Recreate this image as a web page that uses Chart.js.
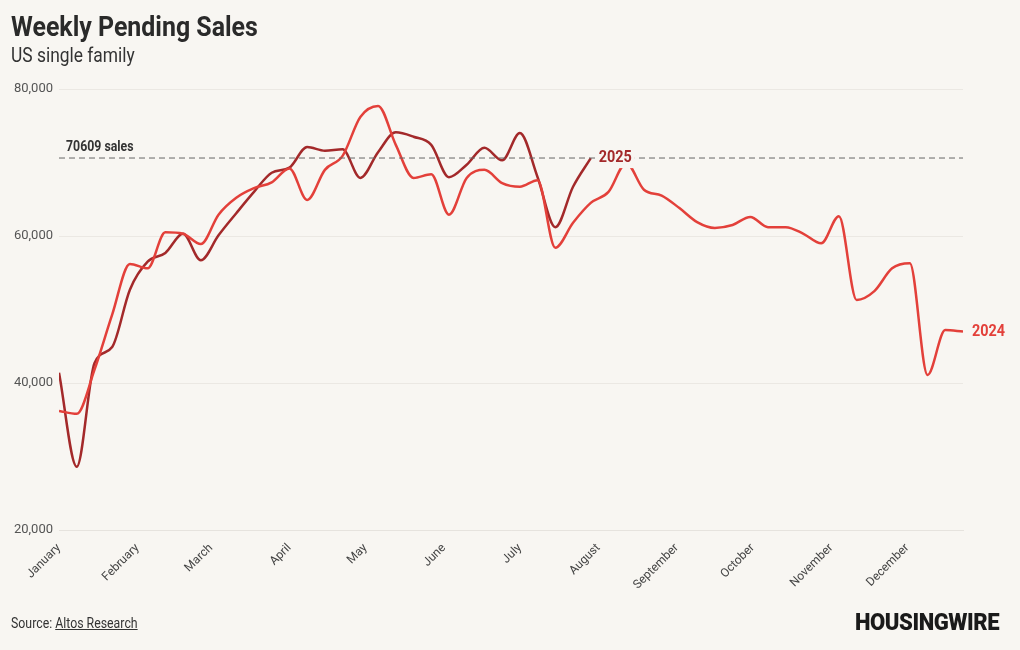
<!DOCTYPE html>
<html><head><meta charset="utf-8">
<script src="https://cdn.jsdelivr.net/npm/chart.js@4"></script>
<style>
body{margin:0;background:#f8f6f2;font-family:"Liberation Sans Narrow","Roboto",sans-serif;}
#wrap{position:relative;width:1020px;height:650px;}
canvas{position:absolute;left:0;top:0;}
.t{position:absolute;left:11px;top:10px;font-size:28px;font-weight:bold;color:#2a2a2a;transform:scaleX(0.89);transform-origin:left;}
.s{position:absolute;left:11px;top:43px;font-size:20px;color:#333;transform:scaleX(0.87);transform-origin:left;}
.src{position:absolute;left:11px;top:615px;font-size:14px;color:#333;transform:scaleX(0.88);transform-origin:left;}
.src u{color:#333}
.logo{position:absolute;left:855px;top:608px;font-size:24px;font-weight:900;color:#1a1a1a;letter-spacing:-0.5px;transform:scaleX(0.92);transform-origin:left;}
</style></head><body>
<div id="wrap">
<canvas id="c" width="1020" height="650"></canvas>
<div class="t">Weekly Pending Sales</div>
<div class="s">US single family</div>
<div class="src">Source: <u>Altos Research</u></div>
<div class="logo">HOUSINGWIRE</div>
</div>
<script>
const monthLabels=["January","February","March","April","May","June","July","August","September","October","November","December"];
const monthStartDay=[0,31,60,91,121,152,182,213,244,274,305,335];
const yTicks=[20000,40000,60000,80000];
const refValue=70609;
const sales2024=[36.2,35.8,41.8,49.3,56.2,55.6,60.5,60.3,58.9,62.9,65.2,66.5,67.3,69.2,64.9,69.0,70.9,76.2,77.7,72.4,67.9,68.4,62.9,67.9,69.0,67.2,66.7,67.6,58.4,61.8,64.5,66.0,69.9,66.3,65.5,63.8,61.9,61.1,61.5,62.6,61.2,61.2,60.3,59.0,62.7,51.3,52.5,55.6,56.3,41.1,47.2,47.0];
const sales2025=[41.4,28.6,42.7,44.9,52.7,56.5,57.7,60.3,56.7,60.1,63.1,66.0,68.6,69.3,72.1,71.6,71.8,67.9,71.4,74.1,73.5,72.4,68.0,69.7,72.0,70.3,74.0,68.0,61.2,66.7,70.6];
const pts=a=>a.map((v,i)=>({x:i,y:v*1000}));
const C24='#e3403a',C25='#a3292a';
const FF='"Liberation Sans Narrow", Roboto';
const deco={id:'deco',afterDatasetsDraw(ch){
 const {ctx,chartArea:a,scales:{x,y}}=ch;
 const yy=y.getPixelForValue(refValue);
 ctx.save();ctx.setLineDash([6,4]);ctx.strokeStyle='#666';ctx.lineWidth=1;
 ctx.beginPath();ctx.moveTo(a.left,yy);ctx.lineTo(a.right,yy);ctx.stroke();ctx.setLineDash([]);
 const txt=(s,px,py,sx)=>{ctx.save();ctx.translate(px,py);ctx.scale(sx,1);ctx.fillText(s,0,0);ctx.restore();};
 ctx.font='bold 14px '+FF;ctx.fillStyle='#333';ctx.textBaseline='alphabetic';
 txt('70609 sales',a.left+7,yy-7,0.88);
 const l=sales2025.length-1, px=x.getPixelForValue(l), py=y.getPixelForValue(sales2025[l]*1000);
 ctx.font='bold 16px '+FF;ctx.textBaseline='middle';
 const w=ctx.measureText('2025').width*0.9;
 ctx.fillStyle='#f8f6f2';ctx.fillRect(px+5,py-10,w+6,20);
 ctx.fillStyle=C25;txt('2025',px+8,py,0.9);
 const m=sales2024.length-1, qx=x.getPixelForValue(m), qy=y.getPixelForValue(sales2024[m]*1000);
 ctx.fillStyle=C24;txt('2024',qx+9,qy,0.9);
 ctx.restore();}};
new Chart(document.getElementById('c'),{type:'line',
 data:{datasets:[
  {label:'2024',data:pts(sales2024),borderColor:C24,borderWidth:2.5,pointRadius:0,tension:0.4,cubicInterpolationMode:'monotone'},
  {label:'2025',data:pts(sales2025),borderColor:C25,borderWidth:2.5,pointRadius:0,tension:0.4,cubicInterpolationMode:'monotone'}]},
 options:{responsive:false,animation:false,events:[],
  layout:{padding:{top:89,right:57,left:0,bottom:0}},
  plugins:{legend:{display:false},tooltip:{enabled:false}},
  scales:{
   x:{type:'linear',min:0,max:51,
    afterBuildTicks(s){s.ticks=monthStartDay.map(d=>({value:d/7}));},
    afterFit(s){s.height=120;},
    grid:{display:false},border:{color:'#e6e3de'},
    ticks:{autoSkip:false,maxRotation:45,minRotation:45,color:'#444',font:{size:12,family:FF},
     callback:(v,i)=>monthLabels[i]}},
   y:{min:20000,max:80000,
    afterBuildTicks(s){s.ticks=yTicks.map(v=>({value:v}));},
    afterFit(s){s.width=59;},
    grid:{color:'#ebe8e3',drawTicks:false},border:{display:false},
    ticks:{padding:6,color:'#555',font:{size:13,family:FF},callback:v=>v.toLocaleString('en-US')}}}},
 plugins:[deco]});
</script></body></html>
